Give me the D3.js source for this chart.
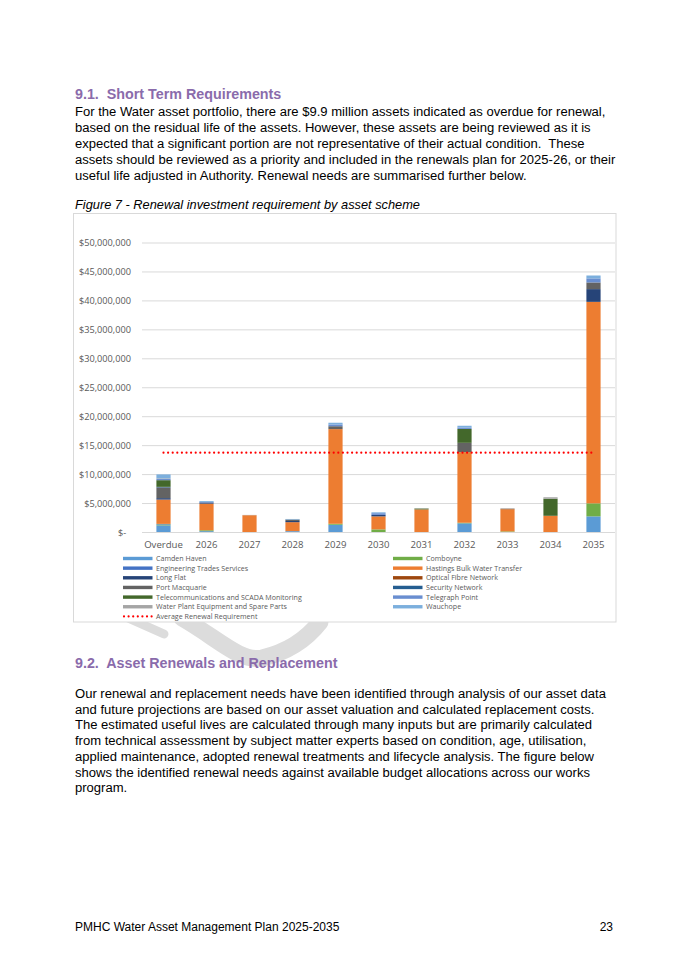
<!DOCTYPE html>
<html>
<head>
<meta charset="utf-8">
<script src="https://cdn.jsdelivr.net/npm/d3@7"></script>
<style>
  body { margin: 0; background: #fff; }
  svg text { font-family: "Liberation Sans", Arial, sans-serif; white-space: pre; }
  .axis text, .legend text { font-family: "Open Sans", sans-serif; fill: #595959; }
  .heading { fill: #8a6bab; font-weight: bold; font-size: 14.3px; }
  .body-text { fill: #000; font-size: 13.05px; }
  .caption { fill: #000; font-size: 12.8px; font-style: italic; }
</style>
</head>
<body>
<svg id="page" width="685" height="970"></svg>
<script>
// Global config
var CATEGORIES = ["Overdue", "2026", "2027", "2028", "2029", "2030", "2031", "2032", "2033", "2034", "2035"];

var SCHEMES = [
  "Camden Haven",
  "Comboyne",
  "Engineering Trades Services",
  "Hastings Bulk Water Transfer",
  "Long Flat",
  "Optical Fibre Network",
  "Port Macquarie",
  "Security Network",
  "Telecommunications and SCADA Monitoring",
  "Telegraph Point",
  "Water Plant Equipment and Spare Parts",
  "Wauchope"
];

var SCHEME_COLORS = [
  "#5b9bd5",
  "#70ad47",
  "#4472c4",
  "#ed7d31",
  "#264478",
  "#9e480e",
  "#636363",
  "#255e91",
  "#43682b",
  "#698ed0",
  "#a5a5a5",
  "#7cafdd"
];

// Renewal requirement per scheme, $ millions (Overdue, 2026 ... 2035)
var camdenHaven = [1.15, 0.15, 0, 0.15, 1.25, 0, 0, 1.5, 0, 0, 2.7];
var comboyne = [0.15, 0.15, 0, 0, 0.17, 0.45, 0, 0.1, 0.1, 0, 2.25];
var engineeringTrades = [0.1, 0, 0, 0, 0, 0, 0, 0, 0, 0, 0];
var hastingsBulk = [4.2, 4.6, 2.9, 1.55, 16.35, 2.25, 3.9, 12.2, 3.8, 2.8, 34.8];
var longFlat = [0.25, 0.2, 0, 0.2, 0, 0.25, 0, 0, 0, 0, 2.2];
var opticalFibre = [0, 0, 0, 0, 0, 0, 0, 0, 0.1, 0, 0];
var portMacquarie = [1.85, 0, 0, 0.25, 0.5, 0, 0, 1.6, 0.05, 0, 1.15];
var securityNetwork = [0.1, 0, 0, 0, 0, 0, 0, 0, 0, 0, 0];
var telecomScada = [1.15, 0, 0, 0, 0, 0, 0.15, 2.4, 0, 2.95, 0];
var telegraphPoint = [0.2, 0.1, 0, 0, 0.3, 0.3, 0, 0.25, 0, 0, 0.7];
var waterPlant = [0.1, 0, 0.05, 0, 0, 0, 0.05, 0, 0, 0.25, 0];
var wauchope = [0.7, 0.15, 0, 0.1, 0.3, 0.15, 0, 0.3, 0, 0, 0.5];

var SCHEME_VALUES = [
  camdenHaven, comboyne, engineeringTrades, hastingsBulk, longFlat, opticalFibre,
  portMacquarie, securityNetwork, telecomScada, telegraphPoint, waterPlant, wauchope
];

var AVERAGE_RENEWAL = 13.7; // $ millions
var AVERAGE_LABEL = "Average Renewal Requirement";
var Y_TICKS = [0, 5, 10, 15, 20, 25, 30, 35, 40, 45, 50];

// Page text
var HEADING_1 = "9.1.  Short Term Requirements";
var BODY_1 = [
  "For the Water asset portfolio, there are $9.9 million assets indicated as overdue for renewal,",
  "based on the residual life of the assets. However, these assets are being reviewed as it is",
  "expected that a significant portion are not representative of their actual condition.  These",
  "assets should be reviewed as a priority and included in the renewals plan for 2025-26, or their",
  "useful life adjusted in Authority. Renewal needs are summarised further below."
];
var CAPTION = "Figure 7 - Renewal investment requirement by asset scheme";
var HEADING_2 = "9.2.  Asset Renewals and Replacement";
var BODY_2 = [
  "Our renewal and replacement needs have been identified through analysis of our asset data",
  "and future projections are based on our asset valuation and calculated replacement costs.",
  "The estimated useful lives are calculated through many inputs but are primarily calculated",
  "from technical assessment by subject matter experts based on condition, age, utilisation,",
  "applied maintenance, adopted renewal treatments and lifecycle analysis. The figure below",
  "shows the identified renewal needs against available budget allocations across our works",
  "program."
];
var FOOTER = "PMHC Water Asset Management Plan 2025-2035";
var PAGE_NUMBER = "23";

var page = d3.select("#page");

// Draft watermark remnants (sits behind everything)
var renderWatermark = function() {
  var wm = page.append("g").attr("class", "watermark")
    .attr("fill", "none")
    .attr("stroke", "#dcdcdc")
    .attr("stroke-linecap", "round");

  wm.append("path")
    .attr("stroke-width", 17)
    .attr("d", "M182,618 C220,640 240,662 262,658 C288,652 306,640 320,622");

  wm.append("path")
    .attr("stroke-width", 9)
    .attr("d", "M128,618 L164,634");
};

// Headings, paragraphs and footer
var renderText = function() {
  var left = 75;

  page.append("text").attr("class", "heading")
    .attr("x", left).attr("y", 99)
    .text(HEADING_1);

  page.append("g").selectAll("text")
    .data(BODY_1)
    .enter()
    .append("text")
    .attr("class", "body-text")
    .attr("x", left)
    .attr("y", (d, i) => 116 + i * 16)
    .text(d => d);

  page.append("text").attr("class", "caption")
    .attr("x", left).attr("y", 209)
    .text(CAPTION);

  page.append("text").attr("class", "heading")
    .attr("x", left).attr("y", 668)
    .text(HEADING_2);

  page.append("g").selectAll("text")
    .data(BODY_2)
    .enter()
    .append("text")
    .attr("class", "body-text")
    .attr("x", left)
    .attr("y", (d, i) => 698 + i * 15.7)
    .text(d => d);

  page.append("text")
    .attr("x", left).attr("y", 931)
    .attr("font-size", "12px")
    .text(FOOTER);

  page.append("text")
    .attr("x", 613).attr("y", 931)
    .attr("text-anchor", "end")
    .attr("font-size", "12px")
    .text(PAGE_NUMBER);
};

// Render the stacked column chart
var renderChart = function() {
  var frame = { left: 73.5, top: 213.5, right: 616, bottom: 622 };
  var plot = { left: 142, right: 615, top: 242.5, bottom: 532 };

  var chart = page.append("g").attr("class", "chart");

  chart.append("rect")
    .attr("x", frame.left)
    .attr("y", frame.top)
    .attr("width", frame.right - frame.left)
    .attr("height", frame.bottom - frame.top)
    .attr("fill", "#fff")
    .attr("stroke", "#d9d9d9")
    .attr("stroke-width", 1);

  // Create D3 scale objects.
  var xScale = d3.scaleBand()
    .domain(CATEGORIES)
    .range([plot.left, plot.right])
    .paddingInner(0.67)
    .paddingOuter(0.335);

  var yScale = d3.scaleLinear()
    .domain([0, 50])
    .range([plot.bottom, plot.top]);

  var fmtDollars = d3.format(",");
  var yAxis = d3.axisLeft(yScale)
    .tickValues(Y_TICKS)
    .tickSize(-(plot.right - plot.left))
    .tickPadding(11)
    .tickFormat(d => d === 0 ? "$-  " : "$" + fmtDollars(d * 1e6));

  var yAxisG = chart.append("g")
    .attr("class", "y axis")
    .attr("transform", "translate(" + plot.left + ",0)")
    .call(yAxis);

  yAxisG.select(".domain").remove();
  yAxisG.selectAll(".tick line").attr("stroke", "#d9d9d9").attr("stroke-width", 1);
  yAxisG.selectAll(".tick text").attr("font-size", "9.2px").attr("dy", "0.34em");

  var xAxis = d3.axisBottom(xScale).tickSize(0).tickPadding(9);

  var xAxisG = chart.append("g")
    .attr("class", "x axis")
    .attr("transform", "translate(0," + plot.bottom + ")")
    .call(xAxis);

  xAxisG.select(".domain").remove();
  xAxisG.selectAll(".tick text").attr("font-size", "9.6px");

  // Stack the schemes
  var rows = CATEGORIES.map(function(c, i) {
    var row = { category: c };
    SCHEMES.forEach(function(s, j) {
      row[s] = SCHEME_VALUES[j][i];
    });
    return row;
  });

  var stacked = d3.stack().keys(SCHEMES)(rows);

  var series = chart.append("g")
    .attr("class", "bars")
    .selectAll("g")
    .data(stacked)
    .enter()
    .append("g")
    .attr("fill", (d, i) => SCHEME_COLORS[i]);

  series.selectAll("rect")
    .data(d => d.filter(p => p[1] - p[0] > 0))
    .enter()
    .append("rect")
    .attr("x", d => xScale(d.data.category))
    .attr("y", d => yScale(d[1]))
    .attr("width", xScale.bandwidth())
    .attr("height", d => yScale(d[0]) - yScale(d[1]));

  // Average renewal requirement line
  var first = CATEGORIES[0];
  var last = CATEGORIES[CATEGORIES.length - 1];

  chart.append("line")
    .attr("class", "average")
    .attr("x1", xScale(first) + xScale.bandwidth() / 2)
    .attr("x2", xScale(last) + xScale.bandwidth() / 2)
    .attr("y1", yScale(AVERAGE_RENEWAL))
    .attr("y2", yScale(AVERAGE_RENEWAL))
    .attr("stroke", "#ff0000")
    .attr("stroke-width", 2.2)
    .attr("stroke-linecap", "round")
    .attr("stroke-dasharray", "0 4.6");

  // Legend
  var legendItems = SCHEMES.map((s, i) => ({ label: s, color: SCHEME_COLORS[i], dotted: false }));
  legendItems.push({ label: AVERAGE_LABEL, color: "#ff0000", dotted: true });

  var legend = chart.append("g").attr("class", "legend");

  var item = legend.selectAll("g")
    .data(legendItems)
    .enter()
    .append("g")
    .attr("transform", function(d, i) {
      var x = i % 2 === 0 ? 123 : 393;
      var y = 558.5 + Math.floor(i / 2) * 9.65;
      return "translate(" + x + "," + y + ")";
    });

  item.filter(d => !d.dotted)
    .append("rect")
    .attr("x", 0)
    .attr("y", -1.7)
    .attr("width", 29.5)
    .attr("height", 3.4)
    .attr("fill", d => d.color);

  item.filter(d => d.dotted)
    .append("line")
    .attr("x1", 1).attr("x2", 29)
    .attr("y1", 0).attr("y2", 0)
    .attr("stroke", d => d.color)
    .attr("stroke-width", 2.2)
    .attr("stroke-linecap", "round")
    .attr("stroke-dasharray", "0 4.6");

  item.append("text")
    .attr("x", 33)
    .attr("dy", "0.35em")
    .attr("font-size", "7.1px")
    .text(d => d.label);
};

renderWatermark();
renderChart();
renderText();
</script>
</body>
</html>
